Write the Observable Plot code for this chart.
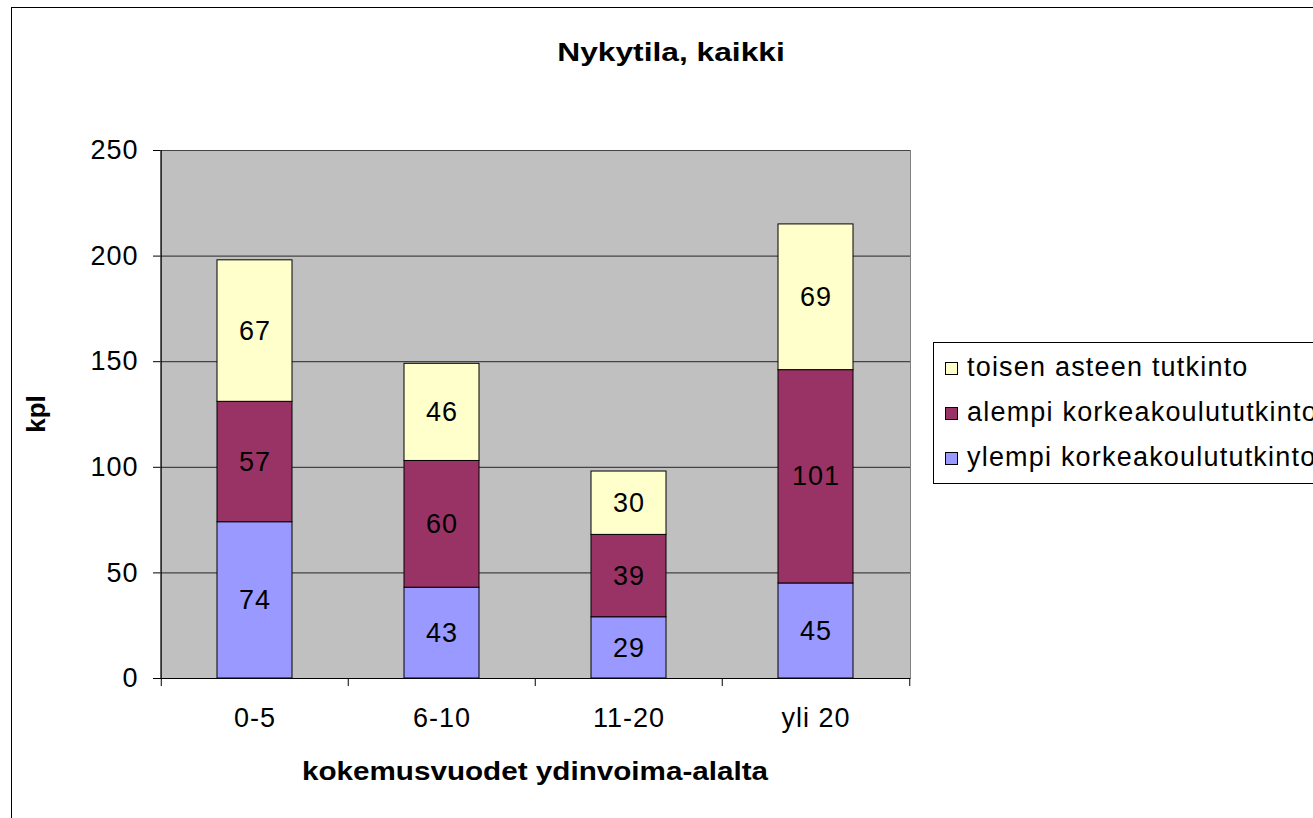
<!DOCTYPE html>
<html>
<head>
<meta charset="utf-8">
<script src="https://cdn.jsdelivr.net/npm/d3@7"></script>
<script src="https://cdn.jsdelivr.net/npm/@observablehq/plot@0.6"></script>
<style>
  html, body { margin: 0; padding: 0; background: #fff; overflow: hidden; width: 1313px; height: 818px; }
  body { position: relative; font-family: "Liberation Sans", Arial, sans-serif; color: #000; }
  #frame { position: absolute; left: 11px; top: 7px; width: 1400px; height: 900px; border: 1px solid #000; }
  #chart { position: absolute; left: 0; top: 0; }
  .title { position: absolute; font-weight: bold; white-space: nowrap; }
  #legend { position: absolute; left: 933px; top: 342px; width: 500px; height: 140px; border: 1px solid #000; background: #fff; }
  .row { position: absolute; left: 11px; white-space: nowrap; font-size: 27px; line-height: 30px; letter-spacing: 1.2px; }
  .sw { display: inline-block; width: 11px; height: 11px; border: 1px solid #000; margin-right: 9px; vertical-align: 1px; }
</style>
</head>
<body>
<div id="frame"></div>
<div id="chart"></div>
<div class="title" id="t1" style="left:371px;width:600px;text-align:center;top:37px;font-size:26px;transform:scaleX(1.22);transform-origin:center;">Nykytila, kaikki</div>
<div class="title" id="t2" style="left:235px;width:600px;text-align:center;top:756px;font-size:26px;transform:scaleX(1.14);transform-origin:center;">kokemusvuodet ydinvoima-alalta</div>
<div class="title" id="t3" style="left:36px;top:414px;font-size:26px;transform:translate(-50%,-50%) rotate(-90deg);">kpl</div>
<div id="legend"></div>
<script>
const categories = ["0-5", "6-10", "11-20", "yli 20"];
const seriesNames = ["ylempi korkeakoulututkinto", "alempi korkeakoulututkinto", "toisen asteen tutkinto"];
const ylempi = [74, 43, 29, 45];
const alempi = [57, 60, 39, 101];
const toisen = [67, 46, 30, 69];
const yTicks = [0, 50, 100, 150, 200, 250];
const gridTicks = [50, 100, 150, 200, 250];
const colors = ["#9999FF", "#993366", "#FFFFCC"];

const seriesValues = [ylempi, alempi, toisen];
const data = [];
seriesNames.forEach((s, i) => categories.forEach((c, j) => data.push({cat: c, series: s, value: seriesValues[i][j]})));

const chart = Plot.plot({
  width: 1313,
  height: 818,
  marginLeft: 160,
  marginRight: 403,
  marginTop: 150,
  marginBottom: 140,
  style: {fontFamily: "'Liberation Sans', Arial, sans-serif", fontSize: "27px", letterSpacing: "1px", background: "transparent", color: "#000", overflow: "visible"},
  x: {domain: categories, paddingInner: 0.6, paddingOuter: 0.3, label: null},
  y: {domain: [0, 250], label: null},
  color: {domain: seriesNames, range: colors},
  marks: [
    Plot.frame({fill: "#C0C0C0", stroke: "#808080"}),
    Plot.ruleY(gridTicks, {stroke: "#444", strokeWidth: 1.2}),
    Plot.barY(data, Plot.stackY({x: "cat", y: "value", fill: "series", stroke: "#000", strokeWidth: 1})),
    Plot.text(data, Plot.stackY({x: "cat", y: "value", text: d => String(d.value), fill: "#000", fontSize: 27})),
    Plot.ruleY([0], {stroke: "#000"}),
    Plot.ruleX([categories[0]], {dx: -93.75, stroke: "#000"}),
    Plot.axisY({ticks: yTicks, tickSize: 7, tickPadding: 15, fontSize: 27, label: null, stroke: "#000"}),
    Plot.axisX({tickSize: 0, tickPadding: 29, fontSize: 27, label: null}),
    Plot.axisX({tickSize: 8, text: null, dx: -93.75, label: null, stroke: "#000"}),
    Plot.axisX({ticks: [categories[categories.length - 1]], tickSize: 8, text: null, dx: 93.75, label: null, stroke: "#000"})
  ]
});
document.getElementById("chart").appendChild(chart);

const legend = document.getElementById("legend");
const order = [2, 1, 0];
order.forEach((idx, k) => {
  const row = document.createElement("div");
  row.className = "row";
  row.style.top = (9 + k * 45) + "px";
  row.innerHTML = `<span class="sw" style="background:${colors[idx]}"></span>${seriesNames[idx]}`;
  legend.appendChild(row);
});
</script>
</body>
</html>
